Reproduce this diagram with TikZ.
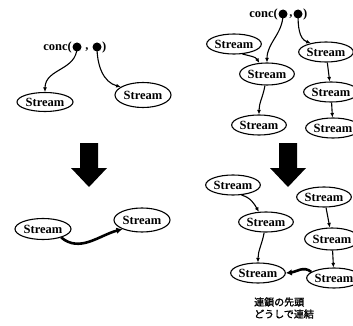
\documentclass[tikz,border=0pt]{standalone}
\usepackage{fontspec}
\setmainfont{Liberation Serif}
\newfontfamily\jpfont[FakeBold=1.6]{Noto Sans CJK JP}
\usetikzlibrary{shapes.geometric,arrows.meta}
\tikzset{
  strm/.style={
    ellipse, draw, line width=1.1pt, inner sep=0pt,
    minimum width=56pt, minimum height=21pt,
    font=\bfseries\fontsize{12.5}{12.5}\selectfont
  },
  strs/.style={
    strm, minimum width=42pt, minimum height=20pt,
    font=\bfseries\fontsize{12.5}{12.5}\selectfont
  },
  pin/.style={circle, fill, inner sep=0pt, minimum size=9pt},
  word/.style={inner sep=0pt, font=\bfseries\fontsize{12.5}{12.5}\selectfont},
  link/.style={line width=1.1pt, -{Latex[length=4.5pt,width=4pt]}},
  fat/.style={line width=2.6pt, -{Latex[length=6pt,width=6.5pt]}}
}

\begin{document}
\begin{tikzpicture}[x=1pt,y=-1pt]
\newcommand{\bigdown}[1]{
  \fill ({#1-9},143) -- ({#1+9},143) -- ({#1+9},168) -- ({#1+18},168)
    -- (#1,187) -- ({#1-18},168) -- ({#1-9},168) -- cycle;
}
\useasboundingbox (0,0) rectangle (353,326);

\node [pin] (la) at (77,47) {};
\node [pin] (lb) at (97,47) {};
\node [word, anchor=east] (lconc) at (72,47) {conc(};
\node [word] (lcomma) at (87,50) {,};
\node [word, anchor=west] (lclose) at (102,47) {)};
\node [strm, minimum height=19pt] (lsa) at (45,102) {Stream};
\node [strm, minimum height=25pt] (lsb) at (143,95) {Stream};
\draw [link] (la.center) to[out=-90,in=90,looseness=1.1] (lsa.north);
\draw [link] (lb.center) to[out=-90,in=165] (lsb.160);

\bigdown{89}
\bigdown{288}

\node [strm] (lba) at (43,229) {Stream};
\node [strm, minimum height=24pt] (lbb) at (142,220) {Stream};
\draw [fat] (lba.-25) to[out=-40,in=195] (lbb.205);

\node [pin] (ra) at (283,14) {};
\node [pin] (rb) at (298,14) {};
\node [word, anchor=east] (rconc) at (278,14) {conc(};
\node [word] (rcomma) at (291,17) {,};
\node [word, anchor=west] (rclose) at (303,14) {)};
\node [strs] (sa) at (234,44) {Stream};
\node [strs, minimum height=22pt] (sb) at (267,74) {Stream};
\node [strs] (sc) at (259,125) {Stream};
\node [strs] (sd) at (326,52) {Stream};
\node [strs] (se) at (331,92) {Stream};
\node [strs] (sf) at (333,128) {Stream};
\draw [link] (ra.center) to[out=-90,in=90] (sb.north);
\draw [link] (sa.-50) to[out=-15,in=120] (sb.125);
\draw [link] (rb.center) to[out=-90,in=160] (sd.150);
\draw [link] (sb.-100) to[out=-100,in=90] (sc.north);
\draw [link] (sd) -- (se);
\draw [link] (se) -- (sf);

\node [strs] (sg) at (233,185) {Stream};
\node [strs] (sh) at (266,222) {Stream};
\node [strs] (si) at (258,273) {Stream};
\node [strs] (sj) at (324,197) {Stream};
\node [strs, minimum height=22pt] (sk) at (332,239) {Stream};
\node [strs] (sl) at (334,278) {Stream};
\draw [link] (sg.-50) to[out=-15,in=120] (sh.125);
\draw [link] (sh.-100) to[out=-100,in=90] (si.north);
\draw [link] (sj) -- (sk);
\draw [link] (sk) -- (sl);
\draw [fat] (sl.165) to[out=140,in=5] (si.east);

\node [anchor=west, inner sep=0pt, font=\jpfont\fontsize{10}{10}\selectfont] (cap1) at (254,302) {連鎖の先頭};
\node [anchor=west, inner sep=0pt, font=\jpfont\fontsize{10}{10}\selectfont] (cap2) at (254,314) {どうしで連結};
\end{tikzpicture}
\end{document}
